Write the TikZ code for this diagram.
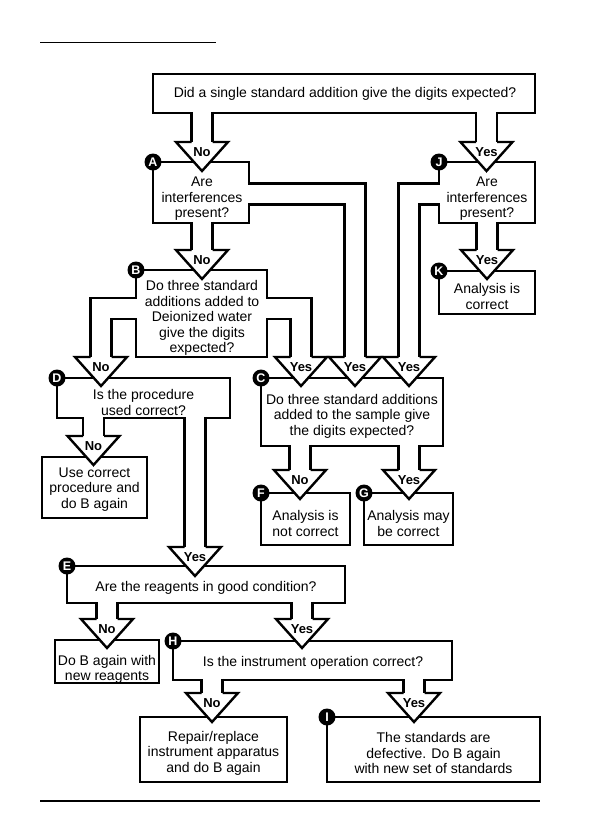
\documentclass[tikz,border=0pt]{standalone}
\usepackage{fontspec}
\setmainfont{Liberation Sans}
\usetikzlibrary{calc}
\newcommand\mkbox[5]{\node[box, minimum width={#4-#2}, minimum height={#5-#3}] (#1) at ({(#2+#4)/2},{(#3+#5)/2}) {};}
\newcommand\mkhead[2]{%
  \path[fill=white] ($(#1)+(-26,0)$) -- ($(#1)+(0,29)$) -- ($(#1)+(26,0)$) -- cycle;
  \draw[lw, line join=miter] ($(#1)+(-10.5,0)$) -- ($(#1)+(-26,0)$) -- ($(#1)+(0,29)$) -- ($(#1)+(26,0)$) -- ($(#1)+(10.5,0)$);
  \node[lab] (#1l) at ($(#1)+(0,10)$) {#2};}
\begin{document}
\begin{tikzpicture}[x=1pt,y=-1pt,
  lw/.style={line width=2.4pt},
  box/.style={draw, line width=2.4pt, fill=white, rectangle, inner sep=0pt, outer sep=0pt},
  txt/.style={align=center, font=\fontsize{14}{15.5}\selectfont, inner sep=0pt},
  stem/.style={draw, line width=2.4pt, double=white, double distance=18.6pt, line join=miter, line cap=butt},
  lab/.style={font=\bfseries\fontsize{13}{13}\selectfont, inner sep=0pt},
  badge/.style={circle, fill=black, text=white, inner sep=0pt, minimum size=17pt, font=\bfseries\fontsize{12.5}{12.5}\selectfont},
  rulel/.style={line width=1.4pt},
]
\useasboundingbox (0,0) rectangle (595,839);
\draw[rulel] (40,42.5) -- (216,42.5);
\draw[rulel] (40,801) -- (540,801);
% boxes
\mkbox{T}{153}{74}{535}{113}
\mkbox{A}{153}{162}{249}{223}
\mkbox{J}{439}{162}{535}{223}
\mkbox{K}{439}{271}{535}{314}
\mkbox{B}{136}{270}{267}{357}
\mkbox{C}{261}{378}{443}{446}
\mkbox{D}{57}{378}{230}{418}
\mkbox{U}{42}{457}{147}{518}
\mkbox{F}{261}{493}{350}{545}
\mkbox{G}{364}{493}{453}{545}
\mkbox{E}{67}{566}{345}{603}
\mkbox{N}{55}{640}{159}{683}
\mkbox{H}{173}{641}{452}{680}
\mkbox{R}{140}{717}{287}{782}
\mkbox{I}{327}{717}{540}{782}
% texts
\node[txt] (tT) at (345,93.5) {Did a single standard addition give the digits expected?};
\node[txt] (tA) at (202,199) {Are\\interferences\\present?};
\node[txt] (tJ) at (487,199) {Are\\interferences\\present?};
\node[txt] (tK) at (487,296.5) {Analysis is\\correct};
\node[txt] (tB) at (202,318) {Do three standard\\additions added to\\Deionized water\\give the digits\\expected?};
\node[txt] (tC) at (352,416) {Do three standard additions\\added to the sample give\\the digits expected?};
\node[txt] (tD) at (143.5,402.5) {Is the procedure\\used correct?};
\node[txt] (tU) at (94.5,489.5) {Use correct\\procedure and\\do B again};
\node[txt] (tF) at (305.5,523.5) {Analysis is\\not correct};
\node[txt] (tG) at (408.5,523.5) {Analysis may\\be correct};
\node[txt] (tE) at (206,587.5) {Are the reagents in good condition?};
\node[txt] (tN) at (107,669.5) {Do B again with\\new reagents};
\node[txt] (tH) at (313,662.5) {Is the instrument operation correct?};
\node[txt] (tR) at (213.5,753) {Repair/replace\\instrument apparatus\\and do B again};
\node[txt] (tI) at (433.5,753) {The standards are\\defective. Do B again\\with new set of standards};
% arrow head positions and bends
\coordinate (hTA) at (202,142);
\coordinate (hTJ) at (486.5,142);
\coordinate (hAB) at (202,250);
\coordinate (hJK) at (487,250);
\coordinate (hBD) at (101,357);
\coordinate (hC1) at (301,357);
\coordinate (hC2) at (355,357);
\coordinate (hC3) at (409,357);
\coordinate (hDU) at (93.5,436);
\coordinate (hDE) at (195,547);
\coordinate (hCF) at (300,470);
\coordinate (hCG) at (409,470);
\coordinate (hEN) at (107,619);
\coordinate (hEH) at (302,619);
\coordinate (hHR) at (212,693);
\coordinate (hHI) at (414,693);
\coordinate (cBD) at (101,308.5);
\coordinate (cBC) at (301,308.5);
\coordinate (cAC) at (355,194);
\coordinate (cJC) at (409,194);
% stems
\draw[stem] (T.south -| hTA) ++(0,-1.2) -- ($(hTA)+(0,1.2)$);
\draw[stem] (T.south -| hTJ) ++(0,-1.2) -- ($(hTJ)+(0,1.2)$);
\draw[stem] (A.south -| hAB) ++(0,-1.2) -- ($(hAB)+(0,1.2)$);
\draw[stem] (J.south -| hJK) ++(0,-1.2) -- ($(hJK)+(0,1.2)$);
\draw[stem] (B.west |- cBD) ++(1.2,0) -- (cBD) -- ($(hBD)+(0,1.2)$);
\draw[stem] (B.east |- cBC) ++(-1.2,0) -- (cBC) -- ($(hC1)+(0,1.2)$);
\draw[stem] (A.east |- cAC) ++(-1.2,0) -- (cAC) -- ($(hC2)+(0,1.2)$);
\draw[stem] (J.west |- cJC) ++(1.2,0) -- (cJC) -- ($(hC3)+(0,1.2)$);
\draw[stem] (D.south -| hDU) ++(0,-1.2) -- ($(hDU)+(0,1.2)$);
\draw[stem] (D.south -| hDE) ++(0,-1.2) -- ($(hDE)+(0,1.2)$);
\draw[stem] (C.south -| hCF) ++(0,-1.2) -- ($(hCF)+(0,1.2)$);
\draw[stem] (C.south -| hCG) ++(0,-1.2) -- ($(hCG)+(0,1.2)$);
\draw[stem] (E.south -| hEN) ++(0,-1.2) -- ($(hEN)+(0,1.2)$);
\draw[stem] (E.south -| hEH) ++(0,-1.2) -- ($(hEH)+(0,1.2)$);
\draw[stem] (H.south -| hHR) ++(0,-1.2) -- ($(hHR)+(0,1.2)$);
\draw[stem] (H.south -| hHI) ++(0,-1.2) -- ($(hHI)+(0,1.2)$);
% heads
\mkhead{hTA}{No}
\mkhead{hTJ}{Yes}
\mkhead{hAB}{No}
\mkhead{hJK}{Yes}
\mkhead{hBD}{No}
\mkhead{hC1}{Yes}
\mkhead{hC2}{Yes}
\mkhead{hC3}{Yes}
\mkhead{hDU}{No}
\mkhead{hDE}{Yes}
\mkhead{hCF}{No}
\mkhead{hCG}{Yes}
\mkhead{hEN}{No}
\mkhead{hEH}{Yes}
\mkhead{hHR}{No}
\mkhead{hHI}{Yes}
% badges
\node[badge] (bA) at (A.north west) {A};
\node[badge] (bB) at (B.north west) {B};
\node[badge] (bC) at (C.north west) {C};
\node[badge] (bD) at (D.north west) {D};
\node[badge] (bE) at (E.north west) {E};
\node[badge] (bF) at (F.north west) {F};
\node[badge] (bG) at (G.north west) {G};
\node[badge] (bH) at (H.north west) {H};
\node[badge] (bI) at (I.north west) {I};
\node[badge] (bJ) at (J.north west) {J};
\node[badge] (bK) at (K.north west) {K};
\end{tikzpicture}
\end{document}
